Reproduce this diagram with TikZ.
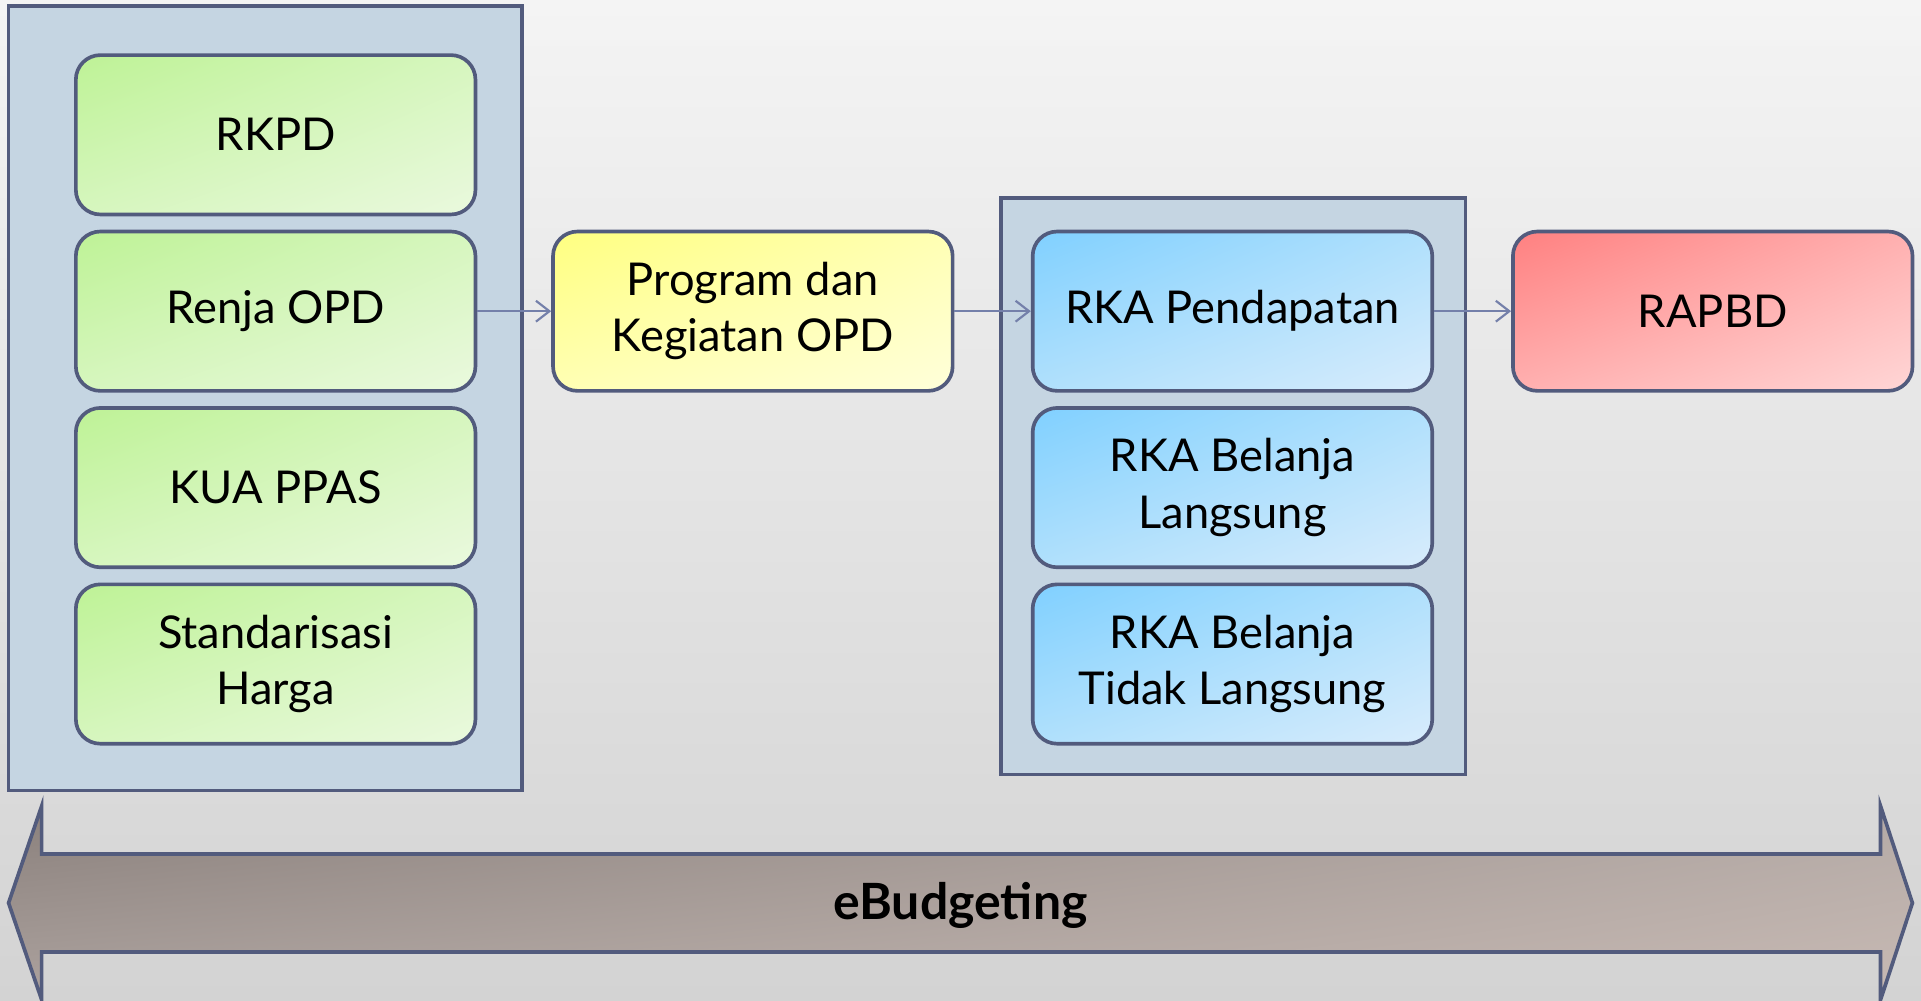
\documentclass[tikz,border=0pt]{standalone}
\usepackage{fontspec}
\setmainfont{Lato}
\usetikzlibrary{arrows.meta,shadings}
\definecolor{edgeblue}{HTML}{525B7D}
\definecolor{linkblue}{HTML}{7480AA}
\definecolor{panelfill}{HTML}{C5D5E2}
\begin{document}
\begin{tikzpicture}[x=0.01cm,y=-0.01cm]
\tikzstyle{panel}=[rectangle,draw=edgeblue,line width=0.85pt,fill=panelfill]
\tikzstyle{box}=[rectangle,rounded corners=0.2cm,draw=edgeblue,line width=0.85pt,align=center,
  minimum width=3.26cm,minimum height=1.30cm,inner sep=0pt,
  font=\fontsize{10.5}{13.1}\selectfont,shading=bilinear interpolation]
\tikzstyle{greenbox}=[box,upper left={rgb,255:red,190;green,242;blue,150},upper right={rgb,255:red,214;green,246;blue,190},
  lower left={rgb,255:red,214;green,246;blue,190},lower right={rgb,255:red,234;green,249;blue,222}]
\tikzstyle{yellowbox}=[box,upper left={rgb,255:red,255;green,255;blue,128},upper right={rgb,255:red,255;green,255;blue,180},
  lower left={rgb,255:red,255;green,255;blue,180},lower right={rgb,255:red,255;green,255;blue,218}]
\tikzstyle{bluebox}=[box,upper left={rgb,255:red,128;green,208;blue,255},upper right={rgb,255:red,176;green,224;blue,252},
  lower left={rgb,255:red,176;green,224;blue,252},lower right={rgb,255:red,216;green,236;blue,252}]
\tikzstyle{redbox}=[box,upper left={rgb,255:red,255;green,128;blue,128},upper right={rgb,255:red,255;green,176;blue,176},
  lower left={rgb,255:red,255;green,176;blue,176},lower right={rgb,255:red,255;green,214;blue,214}]
\tikzstyle{link}=[->,>={Straight Barb[length=0.11cm,width=0.17cm]},draw=linkblue,line width=0.5pt]
% background
\useasboundingbox (0,0) rectangle (1568,817);
\fill[top color={rgb,255:red,244;green,244;blue,244},bottom color={rgb,255:red,211;green,211;blue,211}] (0,0) rectangle (1568,817);
% panels
\node[panel,minimum width=4.19cm,minimum height=6.40cm] (left) at (216.5,325) {};
\node[panel,minimum width=3.79cm,minimum height=4.70cm] (right) at (1006.5,397) {};
% boxes
\node[greenbox] (rkpd) at (225,110) {RKPD};
\node[greenbox] (renja) at (225,254) {Renja OPD};
\node[greenbox] (kua) at (225,398) {KUA PPAS};
\node[greenbox] (harga) at (225,542) {Standarisasi\\Harga};
\node[yellowbox] (prog) at (614.5,254) {Program dan\\Kegiatan OPD};
\node[bluebox] (pend) at (1006,254) {RKA Pendapatan};
\node[bluebox] (bl) at (1006,398) {RKA Belanja\\Langsung};
\node[bluebox] (btl) at (1006,542) {RKA Belanja\\Tidak Langsung};
\node[redbox] (rapbd) at (1398,254) {RAPBD};
\path[]
    (renja) [link] edge (prog)
    (prog) [link] edge (pend)
    (pend) [link] edge (rapbd);
% eBudgeting arrow
\draw[edgeblue,line width=0.85pt,line join=miter,shading=bilinear interpolation,
  upper left={rgb,255:red,138;green,128;blue,124},upper right={rgb,255:red,180;green,170;blue,166},
  lower left={rgb,255:red,172;green,162;blue,158},lower right={rgb,255:red,200;green,186;blue,180}]
  (7,737) -- (34,658) -- (34,697) -- (1535,697) -- (1535,658) -- (1561,737)
  -- (1535,816) -- (1535,777) -- (34,777) -- (34,816) -- cycle;
\node[font=\fontsize{11.6}{14}\selectfont\bfseries] (ebud) at (784,739) {eBudgeting};
\end{tikzpicture}
\end{document}
